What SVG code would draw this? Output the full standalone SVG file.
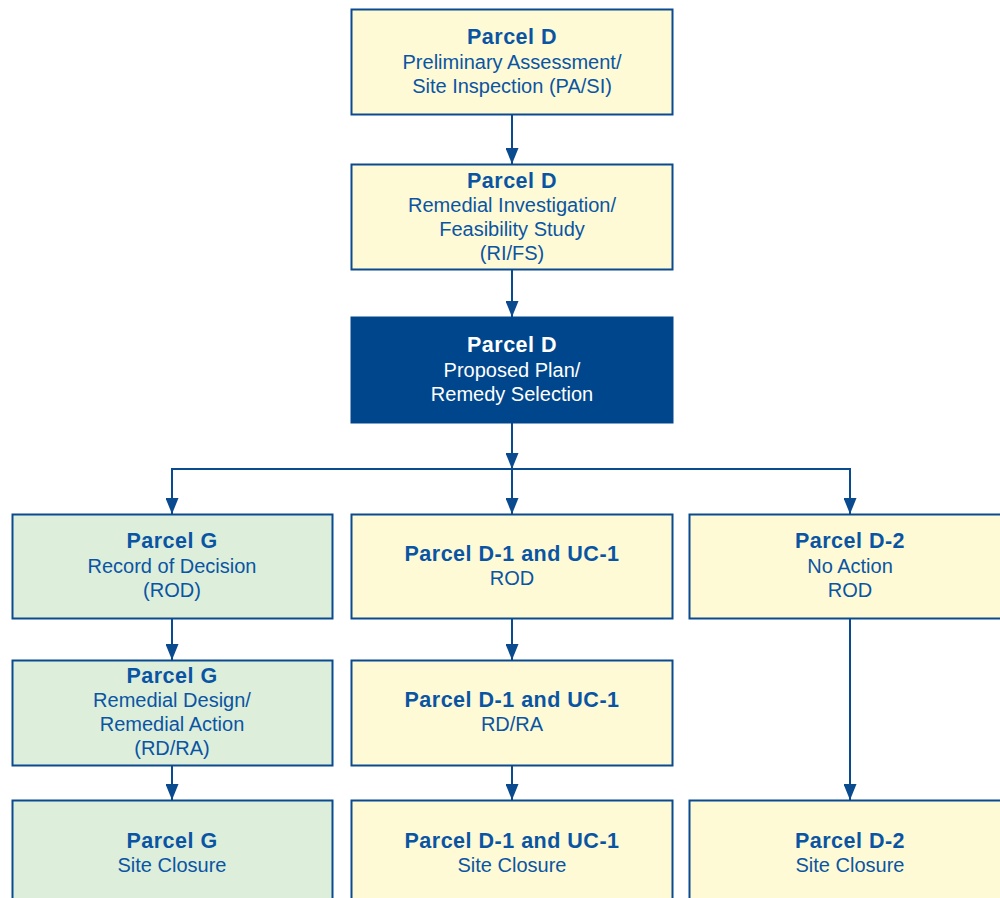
<svg xmlns="http://www.w3.org/2000/svg" width="1000" height="898" viewBox="0 0 1000 898">
<style>
.box{stroke:#0a4a8f;stroke-width:2}
.y{fill:#fefad6}
.g{fill:#ddeedb}
.d{fill:#00468c;stroke:#00468c}
text{font-family:"Liberation Sans",Arial,sans-serif;text-anchor:middle;fill:#0a55a3}
.t{font-weight:bold;font-size:21.5px;letter-spacing:0.5px}
.s{font-size:20px}
.w{fill:#ffffff}
.c{stroke:#0a4a8f;stroke-width:2;fill:none}
</style>
<defs>
<marker id="a" markerWidth="16" markerHeight="13" refX="16" refY="6.5" orient="auto" markerUnits="userSpaceOnUse" viewBox="0 0 16 13">
<path d="M0,0 L16,6.5 L0,13 Z" fill="#0a4a8f"/>
</marker>
</defs>
<g id="connectors">
<line class="c" x1="512" y1="115" x2="512" y2="164" marker-end="url(#a)"/>
<line class="c" x1="512" y1="270" x2="512" y2="317" marker-end="url(#a)"/>
<line class="c" x1="512" y1="423" x2="512" y2="469" marker-end="url(#a)"/>
<line class="c" x1="172" y1="469" x2="850" y2="469"/>
<line class="c" x1="172" y1="468" x2="172" y2="514" marker-end="url(#a)"/>
<line class="c" x1="512" y1="468" x2="512" y2="514" marker-end="url(#a)"/>
<line class="c" x1="850" y1="468" x2="850" y2="514" marker-end="url(#a)"/>
<line class="c" x1="172" y1="619" x2="172" y2="660" marker-end="url(#a)"/>
<line class="c" x1="512" y1="619" x2="512" y2="660" marker-end="url(#a)"/>
<line class="c" x1="172" y1="766" x2="172" y2="800" marker-end="url(#a)"/>
<line class="c" x1="512" y1="766" x2="512" y2="800" marker-end="url(#a)"/>
<line class="c" x1="850" y1="619" x2="850" y2="800" marker-end="url(#a)"/>
</g>
<g id="pasi">
<rect class="box y" x="351.5" y="9.5" width="321" height="105"/>
<text class="t" x="512" y="44">Parcel D</text>
<text class="s" x="512" y="69">Preliminary Assessment/</text>
<text class="s" x="512" y="93">Site Inspection (PA/SI)</text>
</g>
<g id="rifs">
<rect class="box y" x="351.5" y="164.5" width="321" height="105"/>
<text class="t" x="512" y="188">Parcel D</text>
<text class="s" x="512" y="212">Remedial Investigation/</text>
<text class="s" x="512" y="236">Feasibility Study</text>
<text class="s" x="512" y="260">(RI/FS)</text>
</g>
<g id="proposed">
<rect class="d" x="351" y="317" width="322" height="106"/>
<text class="t w" x="512" y="352">Parcel D</text>
<text class="s w" x="512" y="377">Proposed Plan/</text>
<text class="s w" x="512" y="401">Remedy Selection</text>
</g>
<g id="g-rod">
<rect class="box g" x="12.5" y="514.5" width="320" height="104"/>
<text class="t" x="172" y="548">Parcel G</text>
<text class="s" x="172" y="573">Record of Decision</text>
<text class="s" x="172" y="597">(ROD)</text>
</g>
<g id="d1-rod">
<rect class="box y" x="351.5" y="514.5" width="321" height="104"/>
<text class="t" x="512" y="561">Parcel D-1 and UC-1</text>
<text class="s" x="512" y="585">ROD</text>
</g>
<g id="d2-rod">
<rect class="box y" x="689.5" y="514.5" width="322" height="104"/>
<text class="t" x="850" y="548">Parcel D-2</text>
<text class="s" x="850" y="573">No Action</text>
<text class="s" x="850" y="597">ROD</text>
</g>
<g id="g-rdra">
<rect class="box g" x="12.5" y="660.5" width="320" height="105"/>
<text class="t" x="172" y="683">Parcel G</text>
<text class="s" x="172" y="707">Remedial Design/</text>
<text class="s" x="172" y="731">Remedial Action</text>
<text class="s" x="172" y="755">(RD/RA)</text>
</g>
<g id="d1-rdra">
<rect class="box y" x="351.5" y="660.5" width="321" height="105"/>
<text class="t" x="512" y="707">Parcel D-1 and UC-1</text>
<text class="s" x="512" y="731">RD/RA</text>
</g>
<g id="g-close">
<rect class="box g" x="12.5" y="800.5" width="320" height="105"/>
<text class="t" x="172" y="848">Parcel G</text>
<text class="s" x="172" y="872">Site Closure</text>
</g>
<g id="d1-close">
<rect class="box y" x="351.5" y="800.5" width="321" height="105"/>
<text class="t" x="512" y="848">Parcel D-1 and UC-1</text>
<text class="s" x="512" y="872">Site Closure</text>
</g>
<g id="d2-close">
<rect class="box y" x="689.5" y="800.5" width="322" height="105"/>
<text class="t" x="850" y="848">Parcel D-2</text>
<text class="s" x="850" y="872">Site Closure</text>
</g>
</svg>
